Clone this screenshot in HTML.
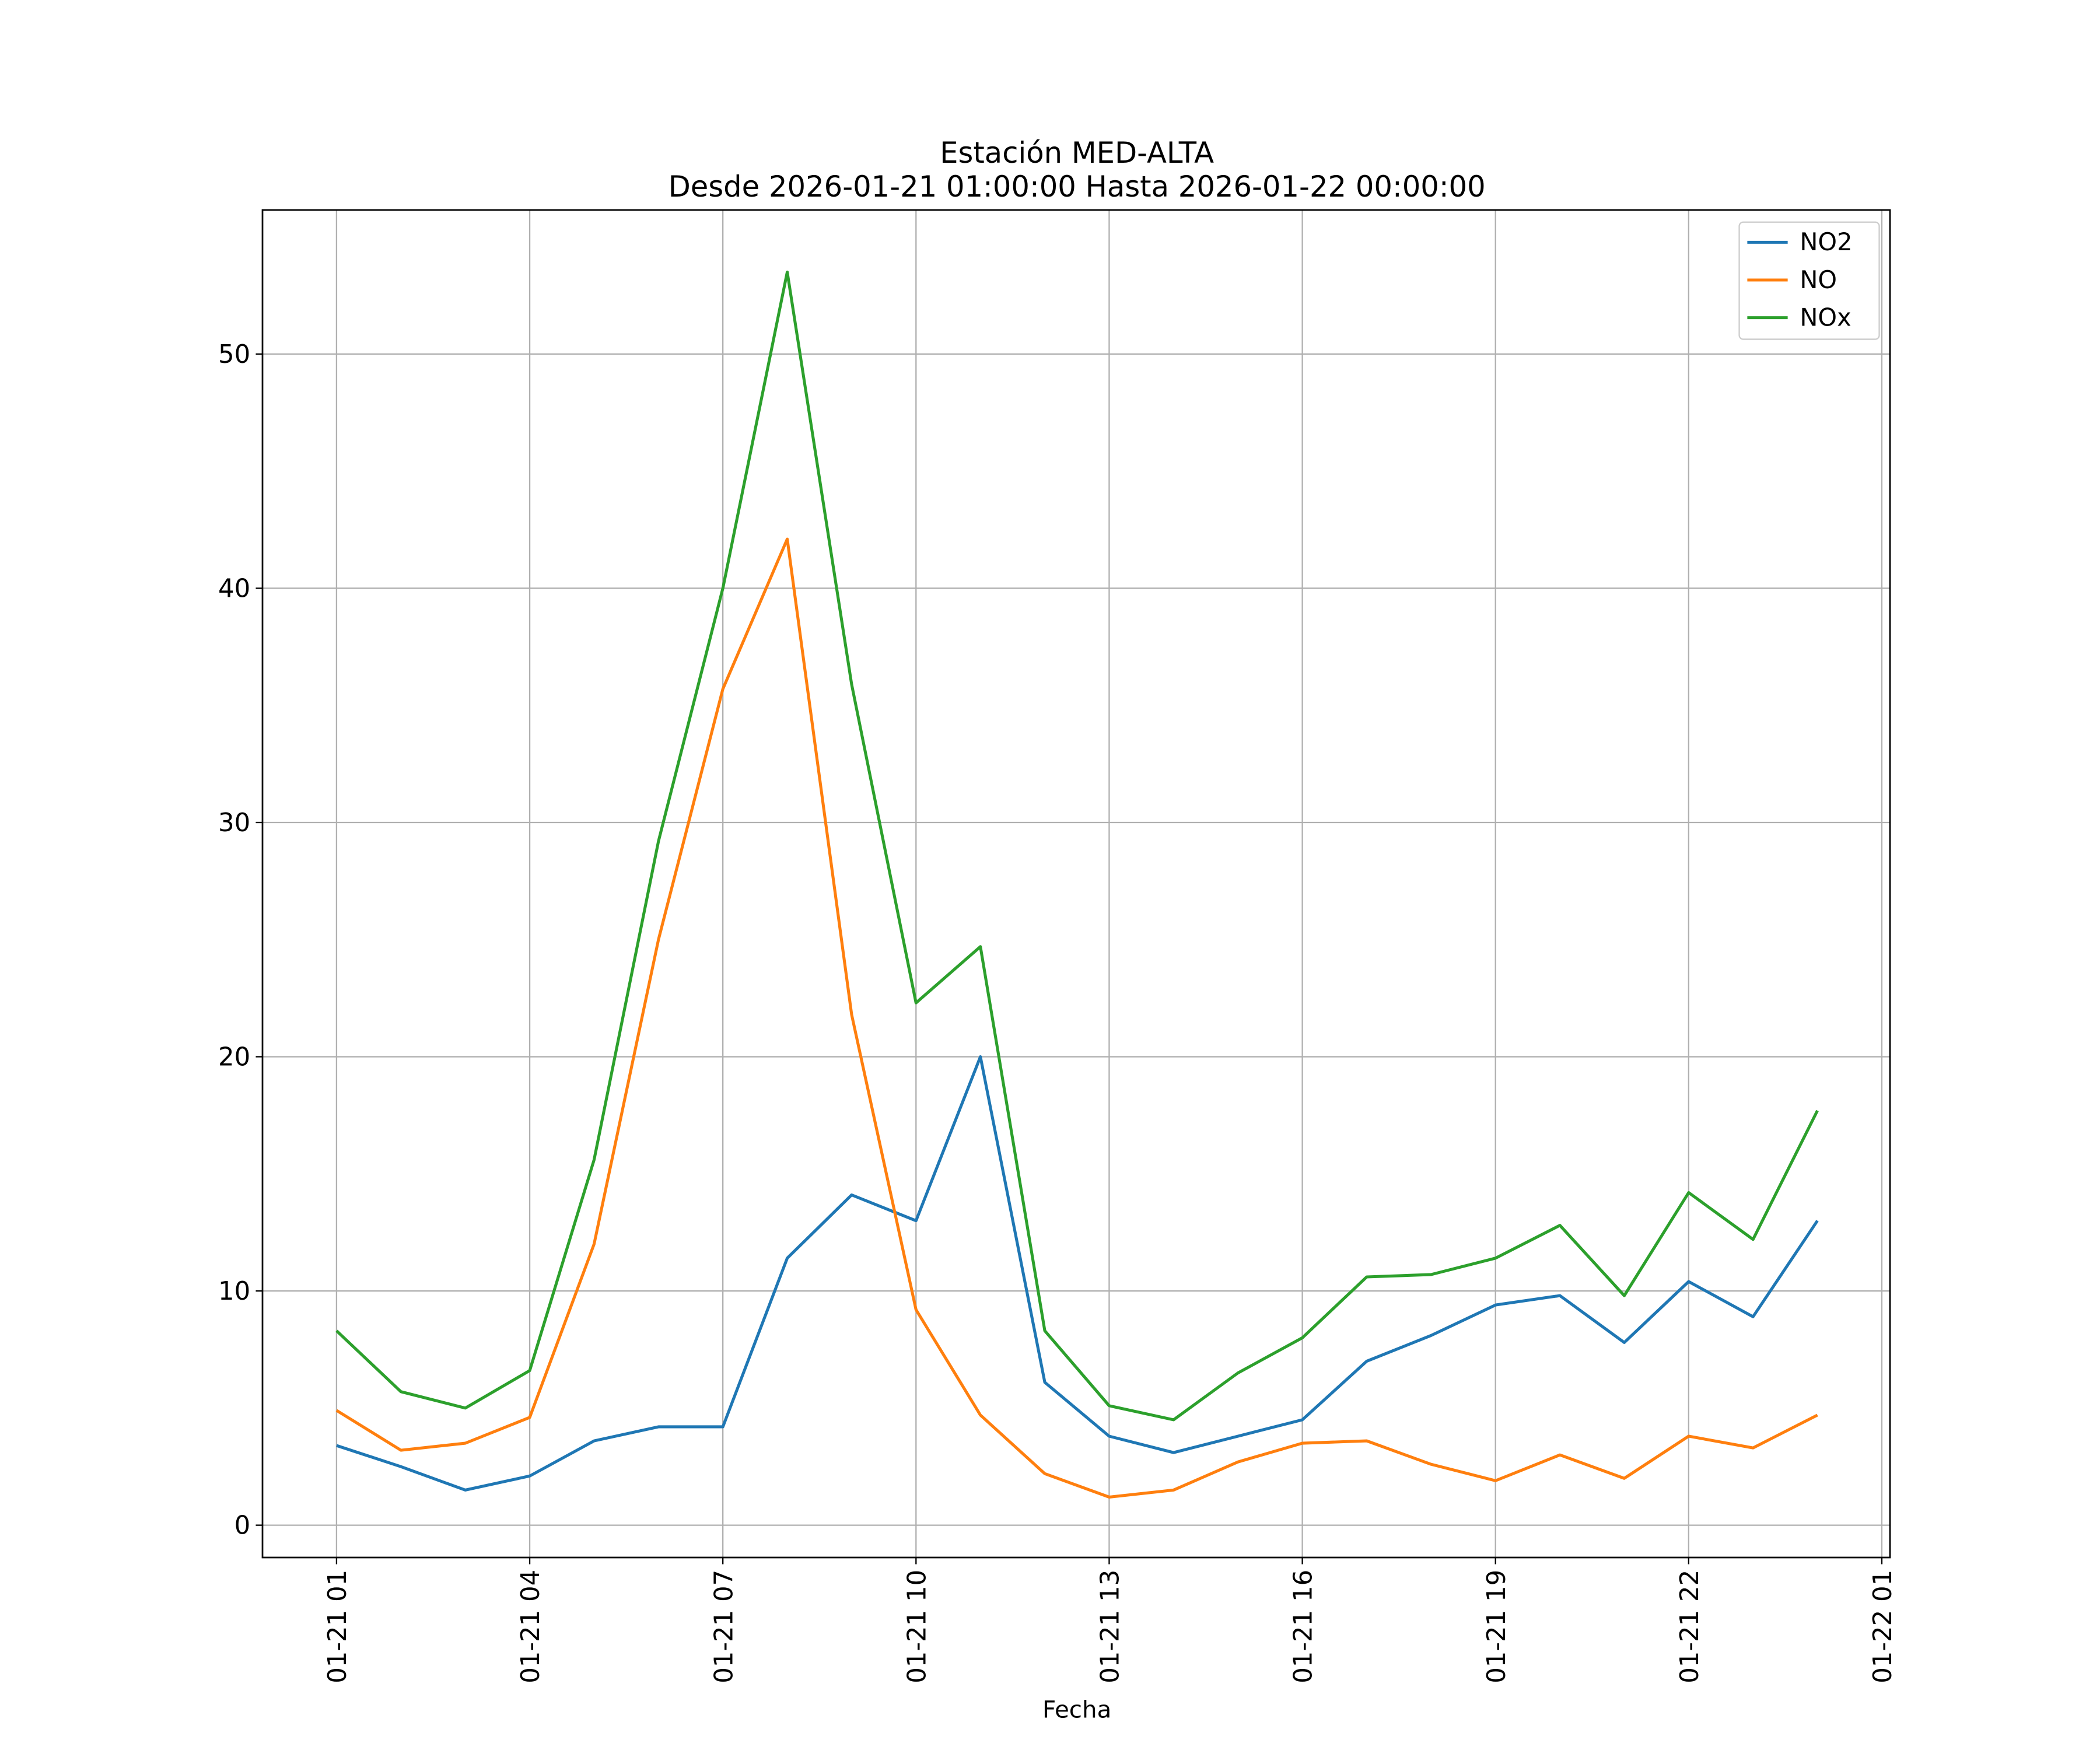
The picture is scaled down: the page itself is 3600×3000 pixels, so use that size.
<!DOCTYPE html>
<html><head><meta charset="utf-8"><style>html,body{margin:0;padding:0;background:#fff}svg{display:block}</style></head>
<body>
<svg id="chart" width="3600" height="3000" viewBox="0 0 1560 1300" preserveAspectRatio="none" xmlns="http://www.w3.org/2000/svg" font-family="'DejaVu Sans','Liberation Sans',sans-serif">
<rect width="1560" height="1300" fill="#fff"/>
<text x="800" y="121" font-size="21.5" text-anchor="middle">Estación MED-ALTA</text>
<text x="800" y="146" font-size="21.5" text-anchor="middle">Desde 2026-01-21 01:00:00 Hasta 2026-01-22 00:00:00</text>
<g id="grid"></g><g id="series"></g><g id="axes"></g>
<text x="800" y="1276" font-size="17.5" text-anchor="middle">Fecha</text>
<g>
<rect x="1292" y="165" width="104" height="87" fill="#fff" stroke="#ccc" rx="3"/>
<line x1="1298" y1="180" x2="1328" y2="180" stroke="#1f77b4" stroke-width="2.2"/><text x="1337" y="186" font-size="18">NO2</text>
<line x1="1298" y1="208" x2="1328" y2="208" stroke="#ff7f0e" stroke-width="2.2"/><text x="1337" y="214" font-size="18">NO</text>
<line x1="1298" y1="236" x2="1328" y2="236" stroke="#2ca02c" stroke-width="2.2"/><text x="1337" y="242" font-size="18">NOx</text>
</g>
</svg>
<script>
const hours=[1,2,3,4,5,6,7,8,9,10,11,12,13,14,15,16,17,18,19,20,21,22,23,24];
const no2=[3.4,2.5,1.5,2.1,3.6,4.2,4.2,11.4,14.1,13.0,20.0,6.1,3.8,3.1,3.8,4.5,7.0,8.1,9.4,9.8,7.8,10.4,8.9,13.0];
const no=[4.9,3.2,3.5,4.6,12.0,25.0,35.7,42.1,21.8,9.2,4.7,2.2,1.2,1.5,2.7,3.5,3.6,2.6,1.9,3.0,2.0,3.8,3.3,4.7];
const nox=[8.3,5.7,5.0,6.6,15.6,29.2,40.0,53.5,35.9,22.3,24.7,8.3,5.1,4.5,6.5,8.0,10.6,10.7,11.4,12.8,9.8,14.2,12.2,17.7];
const yTicks=[0,10,20,30,40,50];
const xTicks=[1,4,7,10,13,16,19,22,25];
const xTickLabels=['01-21 01','01-21 04','01-21 07','01-21 10','01-21 13','01-21 16','01-21 19','01-21 22','01-22 01'];
const NS='http://www.w3.org/2000/svg';
const L=195,R=1404,T=156,B=1157;
const X=h=>250+(h-1)*47.83;
const Y=v=>1133-v*17.40;
function mk(tag,attrs,parent){const e=document.createElementNS(NS,tag);for(const k in attrs)e.setAttribute(k,attrs[k]);parent.appendChild(e);return e;}
const grid=document.getElementById('grid'),axes=document.getElementById('axes'),ser=document.getElementById('series');
yTicks.forEach(v=>{
 const g=mk('line',{x1:L,x2:R,y1:Y(v),y2:Y(v),stroke:'#b0b0b0','stroke-width':1},grid);
 
 
 mk('line',{x1:L-5,x2:L,y1:Y(v),y2:Y(v),stroke:'#000'},axes);
 const t=mk('text',{x:L-9,y:Y(v)+6.5,'font-size':18.8,'text-anchor':'end'},axes);t.textContent=v;
 
 
});
xTicks.forEach((h,i)=>{
 const g=mk('line',{x1:X(h),x2:X(h),y1:T,y2:B,stroke:'#b0b0b0','stroke-width':1},grid);
 
 
 mk('line',{x1:X(h),x2:X(h),y1:B,y2:B+5,stroke:'#000'},axes);
 const t=mk('text',{x:0,y:0,'font-size':18.8,'text-anchor':'end',transform:`translate(${X(h)+7},${B+9}) rotate(-90)`},axes);t.textContent=xTickLabels[i];
 
 
});
const fr=mk('rect',{x:L,y:T,width:R-L,height:B-T,fill:'none',stroke:'#000','stroke-width':1.2},axes);


[[no2,'#1f77b4','series-no2'],[no,'#ff7f0e','series-no'],[nox,'#2ca02c','series-nox']].forEach(([d,c,n])=>{
 const p=mk('polyline',{points:d.map((v,i)=>X(hours[i])+','+Y(v)).join(' '),fill:'none',stroke:c,'stroke-width':2.2,'stroke-linejoin':'round'},ser);
 
 
});
</script>
</body></html>
